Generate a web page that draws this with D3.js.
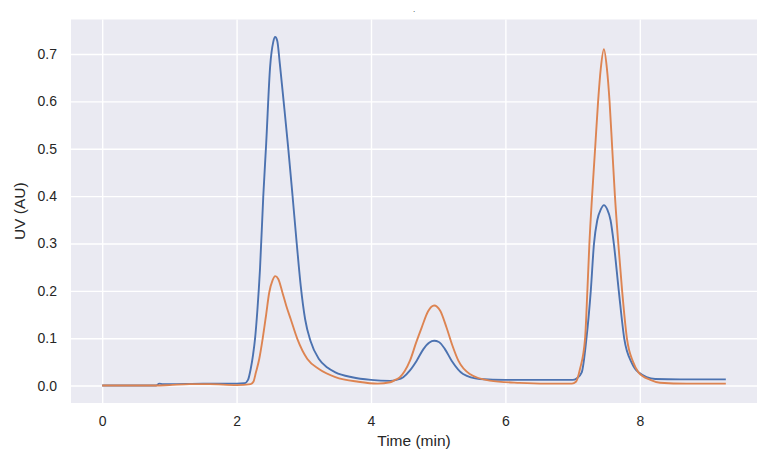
<!DOCTYPE html>
<html>
<head>
    <script type="text/javascript" src="https://d3js.org/d3.v7.min.js"></script>
    <style>
        body { margin: 0; background: #ffffff; }
        text { font-family: "Liberation Sans", Arial, sans-serif; fill: #262626; }
    </style>
</head>
<body>
    <svg width="777" height="464"></svg>

    <script>
        // chromatogram traces (time in min, UV in AU)
        const blueTime = [0, 0.8, 0.85, 0.9, 1.0, 1.5, 2.0, 2.12, 2.17, 2.21, 2.245, 2.274, 2.31, 2.348,
            2.397, 2.44, 2.50, 2.545, 2.574, 2.605, 2.643, 2.70, 2.766, 2.83, 2.895, 2.955, 3.02, 3.10,
            3.225, 3.35, 3.47, 3.72, 4.0, 4.285, 4.38, 4.48, 4.58, 4.68, 4.78, 4.87, 4.94, 5.01, 5.1,
            5.2, 5.37, 5.62, 6.0, 6.5, 7.0, 7.06, 7.136, 7.205, 7.27, 7.318, 7.367, 7.42, 7.466, 7.515,
            7.565, 7.614, 7.688, 7.77, 7.88, 7.98, 8.23, 8.6, 9.28];
        const blueUV = [0, 0, 0.004, 0.003, 0.003, 0.004, 0.004, 0.005, 0.012, 0.035, 0.065, 0.098, 0.16, 0.245,
            0.399, 0.51, 0.675, 0.725, 0.736, 0.728, 0.68, 0.60, 0.505, 0.405, 0.30, 0.21, 0.14, 0.094,
            0.056, 0.038, 0.028, 0.0176, 0.012, 0.010, 0.012, 0.0176, 0.032, 0.0525, 0.077, 0.091, 0.0945, 0.092, 0.077,
            0.0525, 0.0245, 0.014, 0.012, 0.012, 0.012, 0.015, 0.028, 0.098, 0.199, 0.299, 0.349, 0.372, 0.381, 0.372,
            0.349, 0.299, 0.199, 0.098, 0.048, 0.028, 0.014, 0.013, 0.013];

        const orangeTime = [0, 0.8, 1.0, 1.3, 1.6, 2.0, 2.21, 2.25, 2.288, 2.337, 2.387, 2.44, 2.485, 2.535,
            2.574, 2.62, 2.683, 2.74, 2.806, 2.905, 3.053, 3.225, 3.47, 3.81, 4.1, 4.285, 4.36, 4.43, 4.5,
            4.58, 4.67, 4.754, 4.85, 4.94, 5.03, 5.124, 5.21, 5.30, 5.47, 5.765, 6.21, 6.6, 6.99, 7.05,
            7.11, 7.185, 7.22, 7.25, 7.29, 7.335, 7.38, 7.42, 7.466, 7.51, 7.55, 7.59, 7.63, 7.68,
            7.737, 7.81, 7.90, 7.98, 8.157, 8.3, 8.7, 9.28];
        const orangeUV = [0, 0, 0.001, 0.003, 0.003, 0.001, 0.003, 0.008, 0.028, 0.056, 0.098, 0.15, 0.196, 0.222,
            0.231, 0.225, 0.196, 0.168, 0.14, 0.098, 0.056, 0.035, 0.018, 0.008, 0.004, 0.007, 0.012, 0.0176, 0.03,
            0.0525, 0.09, 0.1225, 0.157, 0.169, 0.158, 0.1225, 0.085, 0.0525, 0.0245, 0.0105, 0.0057, 0.004, 0.004, 0.008,
            0.035, 0.098, 0.2, 0.3, 0.4, 0.5, 0.601, 0.67, 0.71, 0.67, 0.60, 0.50, 0.40, 0.30,
            0.20, 0.098, 0.05, 0.028, 0.012, 0.006, 0.004, 0.004];

        const xTicks = [0, 2, 4, 6, 8];
        const yTicks = [0.0, 0.1, 0.2, 0.3, 0.4, 0.5, 0.6, 0.7];

        const series = [
            { color: "#4c72b0", time: blueTime, uv: blueUV },
            { color: "#dd8452", time: orangeTime, uv: orangeUV }
        ];

        const plotLeft = 71, plotRight = 757, plotTop = 19.5, plotBottom = 403;

        // matplotlib style 5% margins around the data
        const x = d3.scaleLinear().domain([-0.464, 9.744]).range([plotLeft, plotRight]);
        const y = d3.scaleLinear().domain([-0.0368, 0.7728]).range([plotBottom, plotTop]);

        const svg = d3.select("svg");

        svg.append("rect")
            .attr("x", plotLeft).attr("y", plotTop)
            .attr("width", plotRight - plotLeft).attr("height", plotBottom - plotTop)
            .attr("fill", "#eaeaf2");

        // grid
        const xAxis = svg.append("g")
            .attr("transform", `translate(0,${plotBottom})`)
            .call(d3.axisBottom(x).tickValues(xTicks).tickFormat(d3.format("d"))
                .tickSize(-(plotBottom - plotTop)).tickPadding(13));
        const yAxis = svg.append("g")
            .attr("transform", `translate(${plotLeft},0)`)
            .call(d3.axisLeft(y).tickValues(yTicks).tickFormat(d3.format(".1f"))
                .tickSize(-(plotRight - plotLeft)).tickPadding(14));

        [xAxis, yAxis].forEach(a => {
            a.select(".domain").remove();
            a.selectAll(".tick line").attr("stroke", "#ffffff").attr("stroke-width", 1.4);
            a.selectAll(".tick text").style("font-size", "14px")
                .style("font-family", "'Liberation Sans', Arial, sans-serif").attr("fill", "#262626");
        });

        const line = d3.line()
            .x(d => x(d[0]))
            .y(d => y(d[1]))
            .curve(d3.curveMonotoneX);

        const plot = svg.append("g");
        series.forEach(s => {
            plot.append("path")
                .datum(s.time.map((t, i) => [t, s.uv[i]]))
                .attr("d", line)
                .attr("fill", "none")
                .attr("stroke", s.color)
                .attr("stroke-width", 1.9)
                .attr("stroke-linejoin", "round");
        });

        // axis labels
        svg.append("text")
            .attr("x", (plotLeft + plotRight) / 2).attr("y", 446)
            .attr("text-anchor", "middle")
            .style("font-size", "15.5px")
            .text("Time (min)");

        svg.append("text")
            .attr("transform", `translate(25,${(plotTop + plotBottom) / 2}) rotate(-90)`)
            .attr("text-anchor", "middle")
            .style("font-size", "15.5px")
            .text("UV (AU)");

        // near-empty title from the original
        svg.append("text")
            .attr("x", (plotLeft + plotRight) / 2).attr("y", 12)
            .attr("text-anchor", "middle")
            .style("font-size", "8px")
            .attr("fill", "#bbbbbb")
            .text(".");
    </script>
</body>
</html>
